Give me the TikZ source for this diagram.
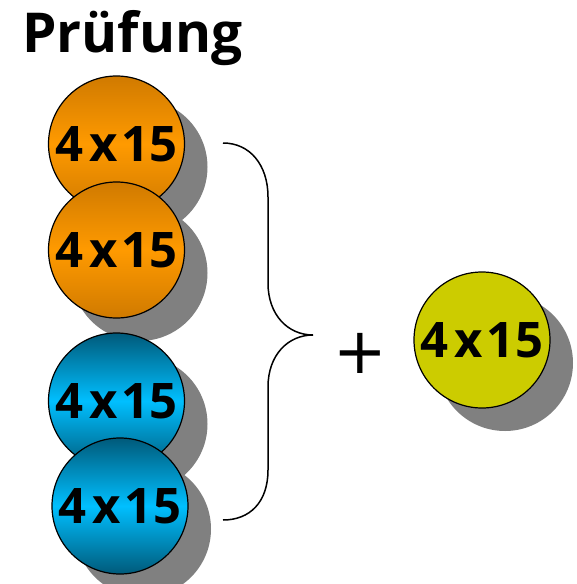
\documentclass[tikz,border=0pt]{standalone}
\usepackage{fontspec}
\setmainfont{Open Sans}
\newfontfamily\plusfont{DejaVu Sans}
\usetikzlibrary{shadows}
\definecolor{orD}{HTML}{D07A00}
\definecolor{orL}{HTML}{FF9A00}
\definecolor{blD}{HTML}{005A7A}
\definecolor{blL}{HTML}{00BFFF}
\definecolor{yel}{HTML}{CCCC00}
\definecolor{shd}{HTML}{808080}
\newcommand{\balltext}{4\kern6pt x\kern4pt 1\kern0.5pt 5}
\tikzset{
  ball/.style={circle, draw=black, line width=1.2pt, minimum size=136pt, inner sep=0pt,
    font=\bfseries\fontsize{49}{49}\selectfont,
    drop shadow={shadow xshift=23pt, shadow yshift=-23pt, fill=shd, opacity=1, draw=none}},
  orangeball/.style={ball, top color=orD, bottom color=orD, middle color=orL},
  blueball/.style={ball, top color=blD, bottom color=blD, middle color=blL},
  yellowball/.style={ball, fill=yel},
  bracepath/.style={draw=black, line width=1.5pt},
}
\begin{document}
\begin{tikzpicture}[x=1pt,y=-1pt]
\useasboundingbox (0,0) rectangle (577,584);
\node[anchor=base west, font=\bfseries\fontsize{55}{55}\selectfont, inner sep=0pt] (title) at (22,52) {Prüfung};
\node[orangeball] (a1) at (116.5,144) {\balltext};
\node[orangeball] (a2) at (116.5,250) {\balltext};
\node[blueball] (b1) at (116.5,401) {\balltext};
\node[blueball] (b2) at (120,506) {\balltext};
\node[yellowball] (y1) at (482,340) {\balltext};
\coordinate (btop) at (223,143);
\coordinate (btip) at (313,335);
\coordinate (bbot) at (223,520);
\draw[bracepath] (btop) .. controls (250,143) and (268,165) .. (268,197) -- (268,283)
  .. controls (268,315) and (288,335) .. (btip)
  .. controls (288,335) and (268,355) .. (268,387) -- (268,470)
  .. controls (268,502) and (250,520) .. (bbot);
\node[font=\plusfont\fontsize{64}{64}\selectfont, inner sep=0pt] (plus) at (360,353) {+};
\end{tikzpicture}
\end{document}
